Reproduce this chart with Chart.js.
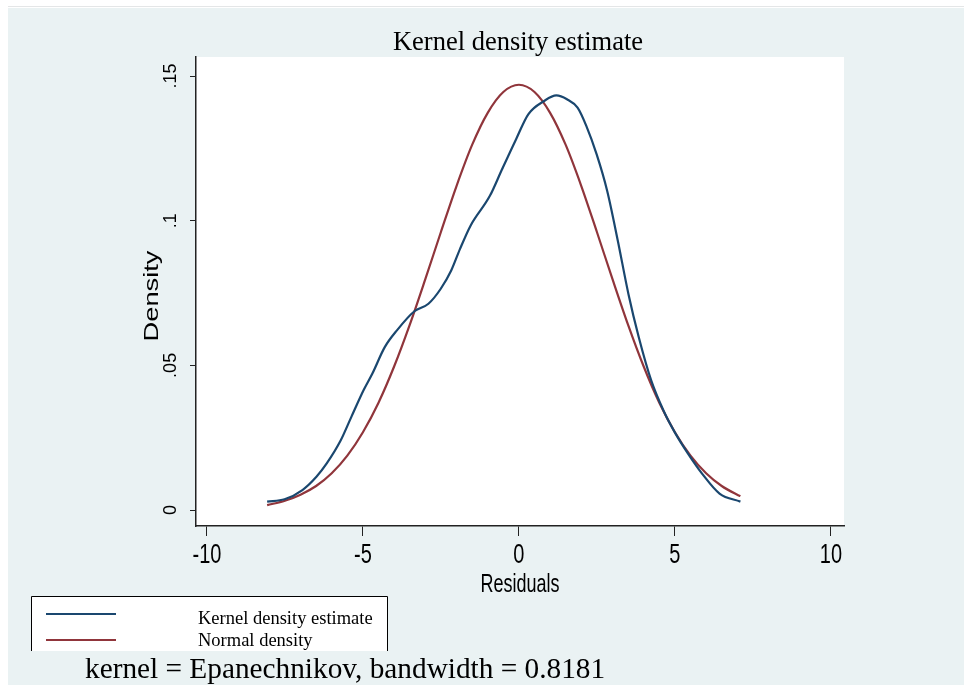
<!DOCTYPE html>
<html>
<head>
<meta charset="utf-8">
<title>Kernel density estimate</title>
<script src="https://cdn.jsdelivr.net/npm/chart.js@4/dist/chart.umd.min.js"></script>
<style>
  html, body { margin: 0; padding: 0; background: #fff; }
  #wrap { width: 964px; height: 694px; }
</style>
</head>
<body>
<div id="wrap"><canvas id="grafik" width="964" height="694"></canvas></div>
<script>
// kernel density estimate
const kdeX = [-8.07, -7.51, -6.94, -6.49, -6.16, -5.71, -5.37, -4.98, -4.70, -4.30, -3.91, -3.35, -2.90, -2.51, -2.17, -1.89, -1.55, -0.93, -0.54, -0.09, 0.30, 0.81, 1.20, 1.54, 1.88, 2.16, 2.49, 2.83, 3.17, 3.51, 3.84, 4.24, 4.63, 5.02, 5.42, 5.87, 6.43, 7.10];
const kdeY = [0.0029, 0.0037, 0.0069, 0.0115, 0.0161, 0.0241, 0.0322, 0.0414, 0.0471, 0.0563, 0.0621, 0.0687, 0.0713, 0.0764, 0.0828, 0.0902, 0.0983, 0.1086, 0.1178, 0.1282, 0.1368, 0.1414, 0.1433, 0.1420, 0.1391, 0.1328, 0.1230, 0.1103, 0.0931, 0.0747, 0.0598, 0.0448, 0.0345, 0.0264, 0.0195, 0.0126, 0.0057, 0.0029];

// normal density
const normalX = [-8.07, -7.5, -7, -6.5, -6, -5.5, -5, -4.5, -4, -3.5, -3, -2.5, -2, -1.5, -1, -0.5, 0, 0.5, 1, 1.5, 2, 2.5, 3, 3.5, 4, 4.5, 5, 5.5, 6, 6.5, 7, 7.1];
const normalY = [0.0017, 0.0032, 0.0053, 0.0083, 0.0127, 0.0188, 0.0269, 0.0371, 0.0496, 0.0640, 0.0798, 0.0961, 0.1120, 0.1262, 0.1373, 0.1445, 0.1470, 0.1445, 0.1373, 0.1262, 0.1120, 0.0961, 0.0798, 0.0640, 0.0496, 0.0371, 0.0269, 0.0188, 0.0127, 0.0083, 0.0053, 0.0048];

const xTicks = [-10, -5, 0, 5, 10];
const xTickLabels = ['-10', '-5', '0', '5', '10'];
const yTicks = [0, 0.05, 0.1, 0.15];
const yTickLabels = ['0', '.05', '.1', '.15'];
const legendLabels = ['Kernel density estimate', 'Normal density'];
const titleText = 'Kernel density estimate';
const xTitle = 'Residuals';
const yTitle = 'Density';
const noteText = 'kernel = Epanechnikov, bandwidth = 0.8181';

const bgColor = '#eaf2f3';
const serif = '"Liberation Serif", "Times New Roman", serif';
const sans = '"Liberation Sans", Arial, sans-serif';

function toPoints(xs, ys) { return xs.map((x, i) => ({ x: x, y: ys[i] })); }

// text that is stretched along one direction, like the exported graph
function tallText(ctx, text, x, y, sx, sy, rot) {
    ctx.save();
    ctx.translate(x, y);
    if (rot) ctx.rotate(rot);
    ctx.scale(sx, sy);
    ctx.fillText(text, 0, 0);
    ctx.restore();
}

const backdrop = {
    id: 'backdrop',
    beforeDraw(chart) {
        const ctx = chart.ctx, a = chart.chartArea;
        ctx.save();
        ctx.fillStyle = '#fff'; ctx.fillRect(0, 0, chart.width, chart.height);
        ctx.fillStyle = '#e4e6e7'; ctx.fillRect(8, 6, chart.width - 8, 1);
        ctx.fillStyle = bgColor; ctx.fillRect(8, 8, chart.width - 8, 677);
        ctx.fillStyle = '#fff'; ctx.fillRect(a.left, a.top, a.right - a.left, a.bottom - a.top);
        ctx.restore();
    },
    afterDraw(chart) {
        const ctx = chart.ctx, sx = chart.scales.x, a = chart.chartArea;
        ctx.save();
        ctx.fillStyle = '#000';
        ctx.textBaseline = 'alphabetic';
        // title
        ctx.font = '26.5px ' + serif; ctx.textAlign = 'center';
        ctx.fillText(titleText, 518, 50);
        // x tick labels and axis title, taller than wide
        ctx.font = '20px ' + sans;
        xTicks.forEach((v, i) => tallText(ctx, xTickLabels[i], sx.getPixelForValue(v), 563, 1, 1.4));
        ctx.font = '18px ' + sans;
        tallText(ctx, xTitle, (a.left + a.right) / 2, 592, 1, 1.4);
        // y axis title, stretched along its length
        ctx.font = '21px ' + sans; ctx.textBaseline = 'middle';
        tallText(ctx, yTitle, 152, 296, 1.3, 1, -Math.PI / 2);
        ctx.textBaseline = 'alphabetic';
        // legend box, its bottom edge is covered by the note
        ctx.fillStyle = '#fff'; ctx.fillRect(31, 596, 357, 55);
        ctx.strokeStyle = '#000'; ctx.lineWidth = 1;
        ctx.beginPath(); ctx.moveTo(31.5, 651); ctx.lineTo(31.5, 596.5); ctx.lineTo(387.5, 596.5); ctx.lineTo(387.5, 651); ctx.stroke();
        const rows = [614, 640];
        chart.data.datasets.forEach((ds, i) => {
            ctx.strokeStyle = ds.borderColor; ctx.lineWidth = 2;
            ctx.beginPath(); ctx.moveTo(46, rows[i]); ctx.lineTo(116, rows[i]); ctx.stroke();
            ctx.fillStyle = '#000'; ctx.font = '18.5px ' + serif; ctx.textAlign = 'left';
            ctx.fillText(legendLabels[i], 198, rows[i] + 10 - i * 4);
        });
        // note
        ctx.font = '29.3px ' + serif; ctx.textAlign = 'left';
        ctx.fillText(noteText, 85, 678);
        ctx.restore();
    }
};

new Chart(document.getElementById('grafik'), {
    type: 'line',
    data: {
        datasets: [
            { label: legendLabels[0], data: toPoints(kdeX, kdeY), borderColor: '#1a476f', borderWidth: 2.2, pointRadius: 0, cubicInterpolationMode: 'monotone', fill: false },
            { label: legendLabels[1], data: toPoints(normalX, normalY), borderColor: '#90353b', borderWidth: 2.2, pointRadius: 0, cubicInterpolationMode: 'monotone', fill: false }
        ]
    },
    options: {
        responsive: false, animation: false, devicePixelRatio: 1,
        layout: { padding: { left: 140, top: 57, right: 120, bottom: 98 } },
        plugins: { legend: { display: false }, title: { display: false }, tooltip: { enabled: false } },
        scales: {
            x: {
                type: 'linear', min: -10.35, max: 10.42,
                afterBuildTicks: s => { s.ticks = xTicks.map(v => ({ value: v })); },
                afterFit: s => { s.height = 70; },
                ticks: { display: false },
                grid: { drawOnChartArea: false, drawTicks: true, tickLength: 10, color: '#222', lineWidth: 1 },
                border: { display: true, color: '#222', width: 1.5 }
            },
            y: {
                type: 'linear', min: -0.00553, max: 0.1566,
                afterBuildTicks: s => { s.ticks = yTicks.map(v => ({ value: v })); },
                afterFit: s => { s.width = 56; },
                ticks: { callback: (v, i) => yTickLabels[i], font: { family: sans, size: 18 }, color: '#000', padding: 6, minRotation: 90, maxRotation: 90, crossAlign: 'center' },
                grid: { drawOnChartArea: false, drawTicks: true, tickLength: 6, color: '#222', lineWidth: 1 },
                border: { display: true, color: '#222', width: 1.5 }
            }
        }
    },
    plugins: [backdrop]
});
</script>
</body>
</html>
